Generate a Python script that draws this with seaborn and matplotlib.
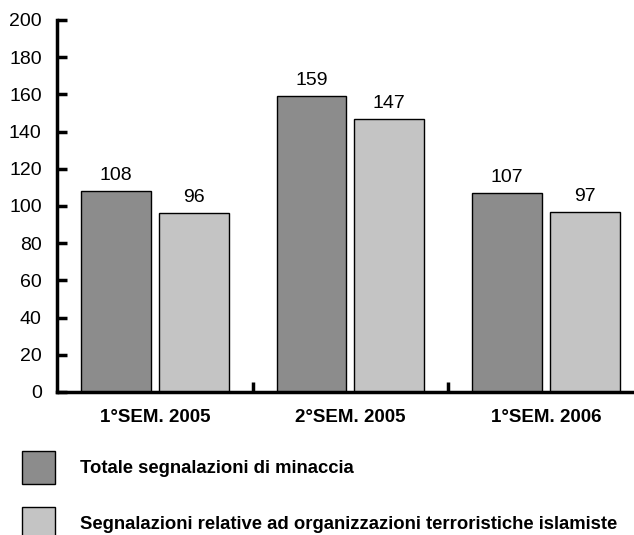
import matplotlib
matplotlib.use("Agg")
import matplotlib.pyplot as plt
import seaborn as sns
import pandas as pd
from matplotlib.patches import Patch

categories = ["1°SEM. 2005", "2°SEM. 2005", "1°SEM. 2006"]
series_names = ["Totale segnalazioni di minaccia",
                "Segnalazioni relative ad organizzazioni terroristiche islamiste"]
totale = [108, 159, 107]
islamiste = [96, 147, 97]
yticks = [0, 20, 40, 60, 80, 100, 120, 140, 160, 180, 200]
colors = ["#8c8c8c", "#c4c4c4"]

df = pd.DataFrame({
    "cat": categories * 2,
    "serie": [series_names[0]] * 3 + [series_names[1]] * 3,
    "val": totale + islamiste,
})

sns.set_style("white")
plt.rcParams["font.family"] = ["Liberation Sans", "DejaVu Sans"]
plt.rcParams["text.color"] = "black"
plt.rcParams["xtick.color"] = "black"
plt.rcParams["ytick.color"] = "black"

fig = plt.figure(figsize=(6.34, 5.35), dpi=100)
ax = fig.add_axes([57/634, 143/535, 1 - 57/634, 372/535])

sns.barplot(data=df, x="cat", y="val", hue="serie", palette=colors,
            width=0.796, gap=0.103, edgecolor="black", linewidth=1.0,
            legend=False, ax=ax)

for cont in ax.containers:
    ax.bar_label(cont, padding=5, fontsize=14, color="black")

ax.set_ylim(0, 200)
ax.set_xlim(-0.5, 2.45)
ax.set_yticks(yticks)
ax.set_yticklabels([str(t) for t in yticks], fontsize=14)
ax.set_xlabel("")
ax.set_ylabel("")
ax.set_xticks(range(len(categories)))
ax.set_xticklabels(categories, fontsize=13.5, fontweight="bold")
ax.tick_params(axis="x", which="major", bottom=True, length=0, pad=12, labelcolor="black")
ax.tick_params(axis="y", left=True, direction="in", length=7, width=2.5, pad=11, labelcolor="black")
ax.set_xticks([0.5, 1.5], minor=True)
ax.tick_params(axis="x", which="minor", bottom=True, direction="in", length=7, width=2.5)

for s in ["top", "right"]:
    ax.spines[s].set_visible(False)
for s in ["left", "bottom"]:
    ax.spines[s].set_linewidth(2.5)
    ax.spines[s].set_color("black")

handles = [Patch(facecolor=c, edgecolor="black", linewidth=1.0) for c in colors]
fig.legend(handles, series_names, loc="upper left",
           bbox_to_anchor=(22/634, 1 - 451/535), frameon=False,
           prop={"size": 13.3, "weight": "bold"},
           handlelength=1.78, handleheight=2.33, handletextpad=1.35,
           labelspacing=1.28, borderpad=0, borderaxespad=0)

fig.savefig("out.png", dpi=100)
